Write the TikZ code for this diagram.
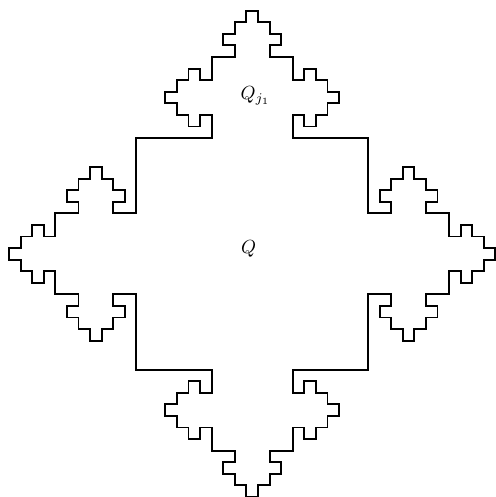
\documentclass[tikz,border=0pt]{standalone}
\begin{document}
\begin{tikzpicture}[x=11.58pt,y=11.58pt,
  outline/.style={line width=1.9pt,line join=miter},
  lbl/.style={inner sep=0pt,scale=1.9}]
\useasboundingbox (-21.78,-21.0) rectangle (21.05,21.92);
\draw[outline] (-10,10)
  \foreach \r in {0,-90,-180,-270}{
    \foreach \x/\y in {-3.5/10,-3.5/12,-4.5/12,-4.5/11,-5.5/11,-5.5/12,-6.5/12,-6.5/13,-7.5/13,-7.5/14,-6.5/14,-6.5/15,-5.5/15,-5.5/16,-4.5/16,-4.5/15,-3.5/15,-3.5/17,-1.5/17,-1.5/18,-2.5/18,-2.5/19,-1.5/19,-1.5/20,-0.5/20,-0.5/21,0.5/21,0.5/20,1.5/20,1.5/19,2.5/19,2.5/18,1.5/18,1.5/17,3.5/17,3.5/15,4.5/15,4.5/16,5.5/16,5.5/15,6.5/15,6.5/14,7.5/14,7.5/13,6.5/13,6.5/12,5.5/12,5.5/11,4.5/11,4.5/12,3.5/12,3.5/10,10/10}{
      -- ([rotate=\r]\x,\y)
    }
  } -- cycle;
\node[lbl] (q) at (-0.3,0.42) {$Q$};
\node[lbl] (qj) at (0.28,13.65) {$Q_{j_1}$};
\end{tikzpicture}
\end{document}
